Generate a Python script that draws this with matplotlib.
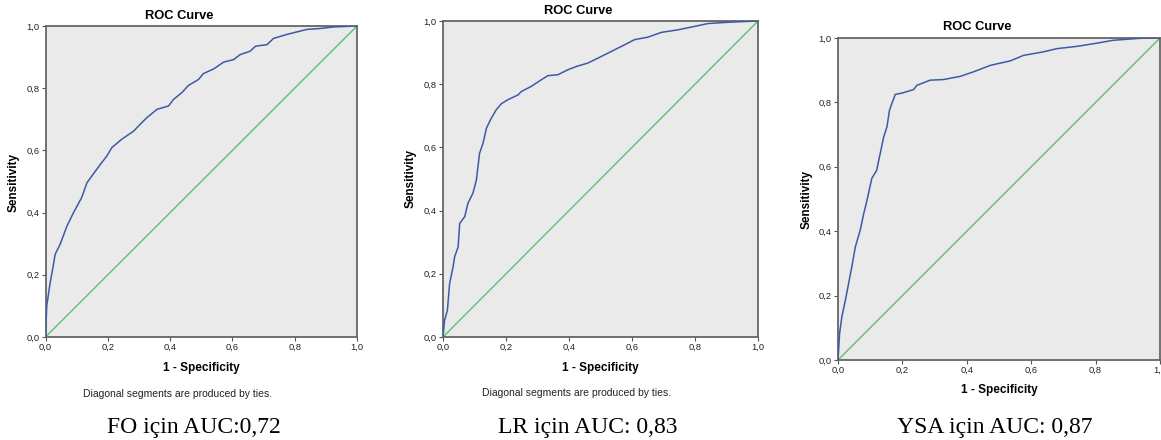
import matplotlib.pyplot as plt

plt.rcParams['font.family'] = ['Liberation Sans', 'DejaVu Sans']

# ROC points (1 - specificity, sensitivity)
fo_fpr = [0, 0.004, 0.015, 0.023, 0.031, 0.047, 0.069, 0.09, 0.116, 0.133, 0.149, 0.176,
          0.197, 0.213, 0.245, 0.283, 0.304, 0.325, 0.358, 0.395, 0.411, 0.438, 0.459,
          0.491, 0.507, 0.54, 0.572, 0.604, 0.625, 0.657, 0.674, 0.711, 0.732, 0.775,
          0.807, 0.839, 0.882, 0.925, 1.0]
fo_tpr = [0, 0.1, 0.175, 0.218, 0.266, 0.298, 0.357, 0.4, 0.448, 0.496, 0.518, 0.555,
          0.582, 0.609, 0.636, 0.662, 0.684, 0.705, 0.732, 0.743, 0.764, 0.786, 0.809,
          0.828, 0.847, 0.862, 0.884, 0.892, 0.908, 0.919, 0.935, 0.94, 0.96, 0.973,
          0.981, 0.989, 0.992, 0.997, 1.0]

lr_fpr = [0, 0.005, 0.014, 0.021, 0.032, 0.037, 0.048, 0.053, 0.069, 0.079, 0.095, 0.106,
          0.116, 0.127, 0.138, 0.153, 0.169, 0.185, 0.206, 0.238, 0.249, 0.28, 0.312,
          0.333, 0.365, 0.397, 0.423, 0.46, 0.503, 0.545, 0.577, 0.608, 0.651, 0.693,
          0.746, 0.799, 0.841, 0.905, 1.0]
lr_tpr = [0, 0.053, 0.085, 0.169, 0.222, 0.254, 0.285, 0.359, 0.381, 0.423, 0.455, 0.497,
          0.581, 0.613, 0.661, 0.692, 0.719, 0.738, 0.751, 0.766, 0.777, 0.793, 0.814,
          0.827, 0.83, 0.846, 0.856, 0.867, 0.888, 0.909, 0.925, 0.941, 0.949, 0.964,
          0.972, 0.983, 0.992, 0.996, 1.0]

ysa_fpr = [0, 0.005, 0.012, 0.023, 0.033, 0.043, 0.054, 0.069, 0.08, 0.09, 0.105, 0.12,
           0.131, 0.142, 0.152, 0.16, 0.167, 0.178, 0.199, 0.235, 0.245, 0.286, 0.328,
           0.38, 0.421, 0.473, 0.535, 0.576, 0.638, 0.68, 0.742, 0.804, 0.855, 0.938, 1.0]
ysa_tpr = [0, 0.083, 0.134, 0.186, 0.238, 0.29, 0.352, 0.403, 0.455, 0.496, 0.564, 0.589,
           0.641, 0.693, 0.724, 0.776, 0.796, 0.825, 0.829, 0.84, 0.853, 0.869, 0.871,
           0.881, 0.895, 0.915, 0.929, 0.946, 0.957, 0.967, 0.974, 0.984, 0.993, 0.999, 1.0]

ticks = [0, 0.2, 0.4, 0.6, 0.8, 1.0]
tick_labels = ['0,0', '0,2', '0,4', '0,6', '0,8', '1,0']
captions = ['FO için AUC:0,72', 'LR için AUC: 0,83', 'YSA için AUC: 0,87']

W, H = 1161, 440
fig = plt.figure(figsize=(11.61, 4.40), dpi=100)

# axes boxes in pixels: left, top, right, bottom
boxes = [(45.5, 26, 357, 337), (443, 21, 758, 337), (838, 38, 1160, 360)]
# text anchors in pixels: title (x, y), ylabel (x, y), xlabel y, note (x, y)
title_pos = [(179, 16), (578, 11), (977, 27)]
ylab_pos = [(14, 182), (411, 178), (807, 199)]
xlab_y = [368, 368, 390]
note_pos = [(178, 394), (577, 393), None]
cap_x = [194, 588, 995]

curves = [(fo_fpr, fo_tpr), (lr_fpr, lr_tpr), (ysa_fpr, ysa_tpr)]

for i, (l, t, r, b) in enumerate(boxes):
    ax = fig.add_axes([l / W, 1 - b / H, (r - l) / W, (b - t) / H])
    ax.set_facecolor('#eaeaea')
    ax.plot([0, 1], [0, 1], color='#5cc072', lw=1.0, zorder=2)
    ax.plot(curves[i][0], curves[i][1], color='#3d5aa8', lw=1.1, zorder=3)
    ax.set_xlim(0, 1)
    ax.set_ylim(0, 1)
    ax.set_xticks(ticks)
    ax.set_yticks(ticks)
    ax.set_xticklabels(tick_labels)
    ax.set_yticklabels(tick_labels)
    ax.tick_params(labelsize=6.7, length=3, width=0.8, pad=1.5, color='#555555',
                   labelcolor='#222222')
    for s in ax.spines.values():
        s.set_color('#666666')
        s.set_linewidth(1.3)

    fig.text(title_pos[i][0] / W, 1 - title_pos[i][1] / H, 'ROC Curve',
             ha='center', va='center', fontsize=9.3, fontweight='bold')
    fig.text(ylab_pos[i][0] / W, 1 - ylab_pos[i][1] / H, 'Sensitivity',
             ha='center', va='center', rotation=90, fontsize=8.5, fontweight='bold')
    fig.text(((l + r) / 2) / W, 1 - xlab_y[i] / H, '1 - Specificity',
             ha='center', va='center', fontsize=8.5, fontweight='bold')
    if note_pos[i] is not None:
        fig.text(note_pos[i][0] / W, 1 - note_pos[i][1] / H,
                 'Diagonal segments are produced by ties.',
                 ha='center', va='center', fontsize=7.5, color='#222222')
    fig.text(cap_x[i] / W, 1 - 427 / H, captions[i], ha='center', va='center',
             fontsize=17, family=['Liberation Serif', 'DejaVu Serif'])

fig.savefig('out.png', dpi=100)
